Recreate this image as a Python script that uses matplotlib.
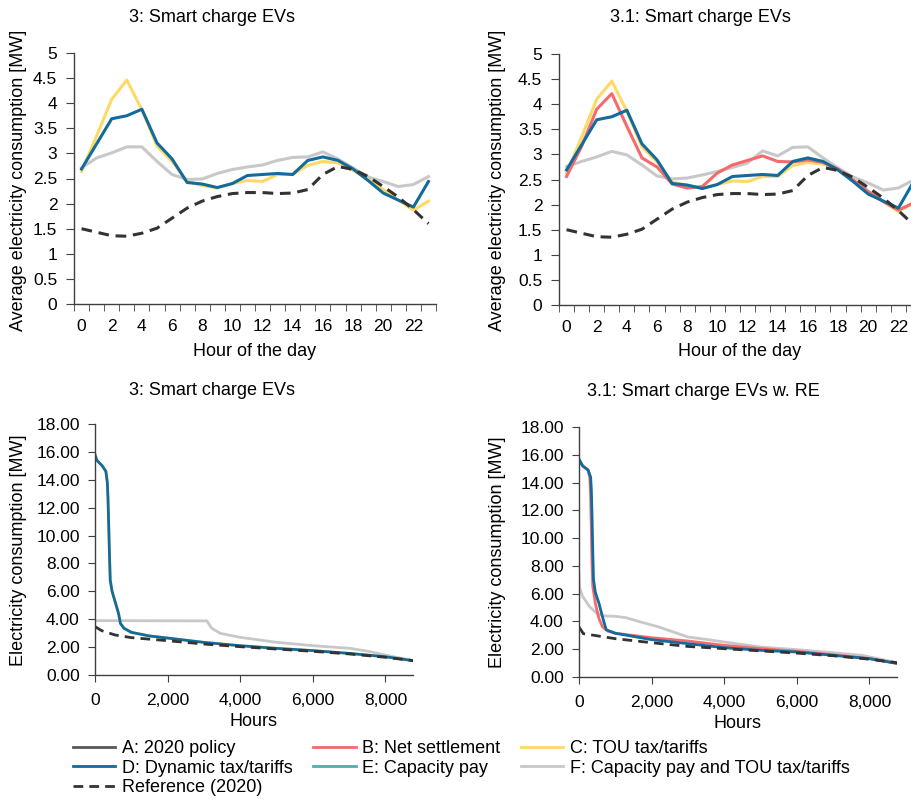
import numpy as np
import matplotlib
matplotlib.use("Agg")
import matplotlib.pyplot as plt
from matplotlib.lines import Line2D
from matplotlib.ticker import FuncFormatter

plt.rcParams["font.family"] = ["Liberation Sans", "DejaVu Sans"]

# colours per scenario
COL_A = "#595959"
COL_B = "#f8696b"
COL_C = "#ffd966"
COL_D = "#116b9c"
COL_E = "#4bb0aa"
COL_F = "#c8c8c8"
COL_REF = "#333333"

hours = list(range(24))

# --- daily profiles, scenario 3 ---
s3_C = [2.64, 3.35, 4.08, 4.46, 3.87, 3.15, 2.84, 2.44, 2.36, 2.31, 2.40, 2.46,
        2.44, 2.58, 2.58, 2.76, 2.84, 2.81, 2.66, 2.48, 2.28, 2.07, 1.87, 2.05]
s3_D = [2.69, 3.19, 3.69, 3.75, 3.88, 3.21, 2.89, 2.42, 2.39, 2.32, 2.40, 2.56,
        2.58, 2.60, 2.58, 2.86, 2.93, 2.86, 2.69, 2.46, 2.21, 2.07, 1.93, 2.44]
s3_F = [2.71, 2.91, 3.01, 3.13, 3.13, 2.84, 2.58, 2.48, 2.49, 2.60, 2.68, 2.73,
        2.77, 2.86, 2.92, 2.93, 3.03, 2.89, 2.71, 2.53, 2.44, 2.34, 2.38, 2.54]
ref_day = [1.50, 1.43, 1.36, 1.35, 1.41, 1.51, 1.71, 1.91, 2.05, 2.14, 2.20, 2.22,
           2.22, 2.20, 2.21, 2.28, 2.58, 2.74, 2.68, 2.54, 2.34, 2.13, 1.88, 1.60]

# --- daily profiles, scenario 3.1 ---
s31_B = [2.56, 3.16, 3.90, 4.21, 3.56, 2.93, 2.75, 2.41, 2.33, 2.36, 2.63, 2.79,
         2.88, 2.97, 2.86, 2.85, 2.89, 2.84, 2.71, 2.49, 2.26, 2.06, 1.89, 2.03]
s31_C = [2.62, 3.35, 4.10, 4.46, 3.86, 3.15, 2.85, 2.45, 2.38, 2.33, 2.40, 2.47,
         2.46, 2.56, 2.56, 2.78, 2.84, 2.81, 2.68, 2.48, 2.26, 2.06, 1.86, 2.05]
s31_D = [2.69, 3.19, 3.69, 3.75, 3.88, 3.21, 2.89, 2.42, 2.39, 2.32, 2.40, 2.56,
         2.58, 2.60, 2.58, 2.86, 2.93, 2.86, 2.69, 2.46, 2.21, 2.07, 1.93, 2.45]
s31_F = [2.76, 2.86, 2.95, 3.06, 2.99, 2.79, 2.57, 2.51, 2.53, 2.59, 2.66, 2.74,
         2.83, 3.07, 2.97, 3.14, 3.15, 2.93, 2.73, 2.55, 2.43, 2.29, 2.33, 2.49]

# --- duration curves, scenario 3 ---
dc3_D_h = [0, 50, 200, 300, 340, 360, 380, 400, 420, 470, 560, 650, 700, 800,
           1000, 1500, 2000, 3000, 4000, 5000, 6000, 7000, 8000, 8760]
dc3_D = [15.8, 15.4, 15.0, 14.6, 13.8, 12.5, 10.5, 8.5, 6.8, 6.0, 5.2, 4.4, 3.7, 3.35,
         3.06, 2.80, 2.65, 2.34, 2.10, 1.91, 1.75, 1.55, 1.31, 1.03]
dc3_F_h = [0, 3080, 3218, 3448, 4000, 5011, 6023, 7034, 7586, 8000, 8760]
dc3_F = [3.90, 3.88, 3.35, 2.99, 2.70, 2.34, 2.10, 1.91, 1.67, 1.43, 1.03]
dc3_ref_h = [0, 184, 552, 1000, 2000, 3000, 4000, 5000, 6000, 7000, 8000, 8760]
dc3_ref = [3.47, 3.18, 2.87, 2.68, 2.46, 2.22, 2.03, 1.86, 1.70, 1.51, 1.27, 1.03]

# --- duration curves, scenario 3.1 ---
dc31_D_h = [0, 100, 250, 320, 340, 360, 380, 400, 450, 550, 650, 750,
            1000, 2000, 3000, 4000, 5000, 6000, 7000, 8000, 8760]
dc31_D = [15.7, 15.2, 14.9, 14.4, 13.5, 11.5, 9.0, 7.0, 6.1, 5.3, 4.3, 3.4,
          3.15, 2.69, 2.40, 2.11, 1.92, 1.80, 1.56, 1.32, 0.98]
dc31_B_h = [0, 100, 250, 300, 320, 340, 360, 380, 450, 550, 650, 800,
            1000, 2000, 3000, 4000, 5000, 6000, 7000, 8000, 8760]
dc31_B = [15.6, 15.2, 14.9, 14.3, 13.0, 10.5, 8.0, 6.5, 5.3, 4.2, 3.6, 3.3,
          3.15, 2.83, 2.59, 2.28, 2.05, 1.85, 1.60, 1.33, 0.98]
dc31_F_h = [0, 10, 100, 300, 500, 700, 1000, 1300, 1700, 2200, 2600, 3000,
            3500, 4000, 5000, 6000, 7000, 7800, 8760]
dc31_F = [7.4, 6.5, 5.8, 5.04, 4.56, 4.40, 4.37, 4.27, 3.96, 3.60, 3.24, 2.88,
          2.71, 2.52, 2.16, 1.97, 1.75, 1.56, 1.03]
dc31_ref_h = [0, 120, 1000, 2000, 3000, 4000, 5000, 6000, 7000, 8000, 8760]
dc31_ref = [3.6, 3.12, 2.76, 2.47, 2.20, 2.04, 1.88, 1.72, 1.53, 1.28, 1.03]

legend_labels = ["A: 2020 policy", "B: Net settlement", "C: TOU tax/tariffs",
                 "D: Dynamic tax/tariffs", "E: Capacity pay",
                 "F: Capacity pay and TOU tax/tariffs", "Reference (2020)"]

FS = 13
DASH = (0, (3.5, 2.2))

fig = plt.figure(figsize=(9.12, 8.01), dpi=100)
W, H = 912, 801


def ax_at(x0, y0, x1, y1):
    return fig.add_axes([x0 / W, 1 - y1 / H, (x1 - x0) / W, (y1 - y0) / H])


def style(ax):
    for s in ("top", "right"):
        ax.spines[s].set_visible(False)
    for s in ("left", "bottom"):
        ax.spines[s].set_color("#404040")
        ax.spines[s].set_linewidth(1.0)
    ax.tick_params(colors="#404040", labelcolor="black", labelsize=12.5)


def day_axes(ax):
    style(ax)
    ax.set_xlim(-0.5, 23.5)
    ax.set_ylim(0, 5)
    ax.set_yticks(np.arange(0, 5.01, 0.5))
    ax.yaxis.set_major_formatter(FuncFormatter(lambda v, p: f"{v:g}"))
    ax.set_xticks(range(0, 24, 2))
    ax.set_xticks(np.arange(-0.5, 24, 1), minor=True)
    ax.tick_params(axis="x", which="major", length=0, pad=11)
    ax.tick_params(axis="x", which="minor", length=5, direction="out", color="#404040")
    ax.tick_params(axis="y", length=6, pad=6)


def dur_axes(ax):
    style(ax)
    ax.set_xlim(0, 8760)
    ax.set_ylim(0, 18)
    ax.set_yticks(np.arange(0, 18.01, 2))
    ax.set_xticks(range(0, 8761, 2000))
    ax.yaxis.set_major_formatter(FuncFormatter(lambda v, p: f"{v:.2f}"))
    ax.xaxis.set_major_formatter(FuncFormatter(lambda v, p: f"{v:,.0f}"))
    ax.tick_params(axis="x", length=5, pad=8)
    ax.tick_params(axis="y", length=5, pad=6)


# top left
ax1 = ax_at(74, 53, 436, 304)
day_axes(ax1)
ax1.plot(hours, s3_F, color=COL_F, lw=2.2)
ax1.plot(hours, s3_C, color=COL_C, lw=2.2)
ax1.plot(hours, s3_D, color=COL_D, lw=2.2)
ax1.plot(hours, ref_day, color=COL_REF, lw=2.2, ls=DASH)

# top right (runs off the edge like the original)
ax2 = ax_at(559, 54, 921, 305)
day_axes(ax2)
ax2.plot(hours, s31_F, color=COL_F, lw=2.2)
ax2.plot(hours, s31_C, color=COL_C, lw=2.2)
ax2.plot(hours, s31_B, color=COL_B, lw=2.2)
ax2.plot(hours, s31_D, color=COL_D, lw=2.2)
ax2.plot(hours, ref_day, color=COL_REF, lw=2.2, ls=DASH)

# bottom left
ax3 = ax_at(95, 424, 413, 675)
dur_axes(ax3)
ax3.plot(dc3_F_h, dc3_F, color=COL_F, lw=2)
ax3.plot(dc3_D_h, dc3_D, color=COL_C, lw=2)
ax3.plot(dc3_D_h, dc3_D, color=COL_D, lw=2)
ax3.plot(dc3_ref_h, dc3_ref, color=COL_REF, lw=2, ls=DASH)

# bottom right
ax4 = ax_at(579, 427, 897, 677)
dur_axes(ax4)
ax4.plot(dc31_F_h, dc31_F, color=COL_F, lw=2)
ax4.plot(dc31_B_h, dc31_B, color=COL_B, lw=2)
ax4.plot(dc31_D_h, dc31_D, color=COL_D, lw=2)
ax4.plot(dc31_ref_h, dc31_ref, color=COL_REF, lw=2, ls=DASH)

# titles and axis labels
fig.text(212 / W, 1 - 17 / H, "3: Smart charge EVs", ha="center", va="center", fontsize=FS)
fig.text(700 / W, 1 - 17 / H, "3.1: Smart charge EVs", ha="center", va="center", fontsize=FS)
fig.text(212 / W, 1 - 390 / H, "3: Smart charge EVs", ha="center", va="center", fontsize=FS)
fig.text(703 / W, 1 - 391 / H, "3.1: Smart charge EVs w. RE", ha="center", va="center", fontsize=FS)

fig.text(255 / W, 1 - 352 / H, "Hour of the day", ha="center", va="center", fontsize=FS)
fig.text(740 / W, 1 - 352 / H, "Hour of the day", ha="center", va="center", fontsize=FS)
fig.text(254 / W, 1 - 722 / H, "Hours", ha="center", va="center", fontsize=FS)
fig.text(738 / W, 1 - 724 / H, "Hours", ha="center", va="center", fontsize=FS)

fig.text(19 / W, 1 - 180 / H, "Average electricity consumption [MW]", rotation=90,
         ha="center", va="center", fontsize=FS)
fig.text(498 / W, 1 - 180 / H, "Average electricity consumption [MW]", rotation=90,
         ha="center", va="center", fontsize=FS)
fig.text(19 / W, 1 - 550 / H, "Electricity consumption [MW]", rotation=90,
         ha="center", va="center", fontsize=FS)
fig.text(498 / W, 1 - 552 / H, "Electricity consumption [MW]", rotation=90,
         ha="center", va="center", fontsize=FS)

# legend
handles = [Line2D([], [], color=c, lw=2) for c in (COL_A, COL_B, COL_C, COL_D, COL_E, COL_F)]
handles.append(Line2D([], [], color=COL_REF, lw=2, ls=DASH))
order = [0, 3, 6, 1, 4, 2, 5]
fig.legend([handles[i] for i in order], [legend_labels[i] for i in order],
           ncol=3, loc="upper left", bbox_to_anchor=(73 / W, 1 - 740 / H),
           frameon=False, fontsize=FS, handlelength=2.35, handletextpad=0.35,
           columnspacing=1.15, labelspacing=0.15, borderpad=0, borderaxespad=0)

fig.savefig("out.png", dpi=100)
